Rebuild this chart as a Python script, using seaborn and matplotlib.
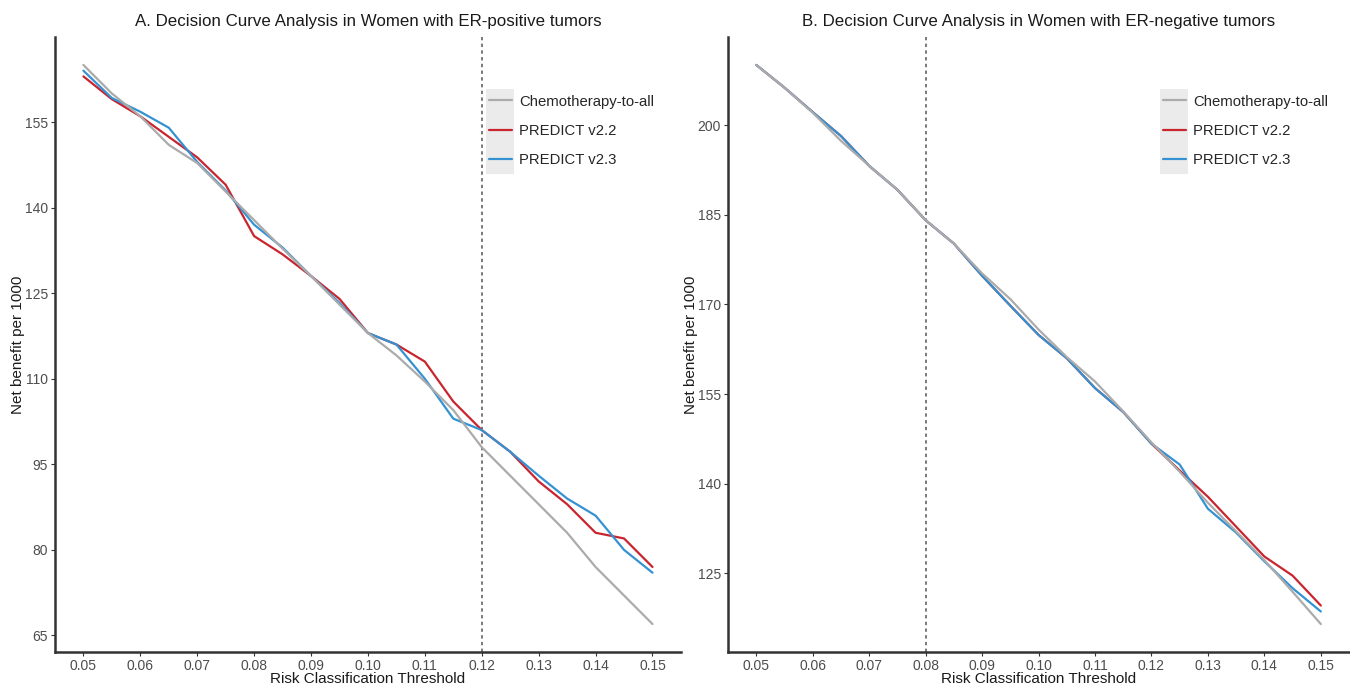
import numpy as np
import pandas as pd
import seaborn as sns
import matplotlib.pyplot as plt
from matplotlib.lines import Line2D
from matplotlib.patches import Rectangle

# thresholds shared by both panels
thresholds = [0.05, 0.055, 0.06, 0.065, 0.07, 0.075, 0.08, 0.085, 0.09, 0.095, 0.10,
              0.105, 0.11, 0.115, 0.12, 0.125, 0.13, 0.135, 0.14, 0.145, 0.15]

# ---------- A: ER-positive ----------
chemo_pos = [165, 160, 156, 151, 147.8, 142.8, 137.8, 132.8, 128, 123, 118,
             114.1, 109.5, 104.5, 98, 93, 88, 83, 77, 72, 67]
v22_pos = [163, 159, 156, 152.4, 148.8, 144, 135, 131.8, 128, 124, 118,
           116, 113, 106, 101, 97.2, 92, 88, 83, 82, 77]
v23_pos = [164, 159.2, 156.8, 154, 148, 143, 137, 133, 128, 123.3, 118,
           116, 110, 103, 101, 97.2, 93, 89, 86, 80, 76]

# ---------- B: ER-negative ----------
chemo_neg = [210.1, 206.3, 202.1, 197.4, 193.2, 189.2, 184.1, 180.2, 175.2, 170.9, 165.8,
             161.2, 157.1, 152.1, 146.9, 142, 136.8, 132, 127.2, 121.9, 116.5]
v22_neg = [210.1, 206.3, 202.2, 198.2, 193.2, 189.2, 184.1, 180.2, 174.8, 169.8, 164.9,
           161, 156, 152, 146.7, 142.2, 137.8, 132.8, 127.8, 124.6, 119.6]
v23_neg = [210.1, 206.3, 202.2, 198.2, 193.2, 189.2, 184.1, 180.2, 174.8, 169.8, 164.9,
           161, 156, 152, 146.7, 143.2, 135.8, 131.8, 127, 122.5, 118.6]

yticks_pos = [65, 80, 95, 110, 125, 140, 155]
yticks_neg = [125, 140, 155, 170, 185, 200]
xticks = [0.05, 0.06, 0.07, 0.08, 0.09, 0.10, 0.11, 0.12, 0.13, 0.14, 0.15]
cutoff_pos, cutoff_neg = 0.12, 0.08

labels = ['Chemotherapy-to-all', 'PREDICT v2.2', 'PREDICT v2.3']
colors = {'Chemotherapy-to-all': '#ABABAB', 'PREDICT v2.2': '#C9252F', 'PREDICT v2.3': '#3592D2'}
draw_order = ['PREDICT v2.2', 'PREDICT v2.3', 'Chemotherapy-to-all']


def long_df(chemo, v22, v23):
    return pd.DataFrame({
        'threshold': thresholds * 3,
        'nb': chemo + v22 + v23,
        'model': [labels[0]] * len(thresholds) + [labels[1]] * len(thresholds) + [labels[2]] * len(thresholds),
    })


sns.set_theme(style='white')
plt.rcParams['font.family'] = ['Liberation Sans', 'DejaVu Sans']

fig = plt.figure(figsize=(13.5, 6.84), dpi=100)
ax1 = fig.add_axes([0.0407, 0.0468, 0.4637, 0.8991])
ax2 = fig.add_axes([0.5393, 0.0468, 0.4600, 0.8991])

# (axes, data, cutoff, yticks, title, legend x anchor, key box x)
panels = [
    (ax1, long_df(chemo_pos, v22_pos, v23_pos), cutoff_pos, yticks_pos,
     'A. Decision Curve Analysis in Women with ER-positive tumors', 0.684, 0.6885),
    (ax2, long_df(chemo_neg, v22_neg, v23_neg), cutoff_neg, yticks_neg,
     'B. Decision Curve Analysis in Women with ER-negative tumors', 0.691, 0.696),
]

for ax, df, cut, yt, title, lx, bx in panels:
    ax.axvline(cut, color='#555555', lw=1.1, ls=(0, (2.2, 2.2)), zorder=1)
    for m in draw_order:
        sns.lineplot(data=df[df['model'] == m], x='threshold', y='nb', color=colors[m],
                     lw=1.6, ax=ax, legend=False, zorder=3)

    lo, hi = min(df['nb']), max(df['nb'])
    pad = (hi - lo) * 0.05
    ax.set_ylim(lo - pad, hi + pad)
    ax.set_xlim(0.045, 0.155)
    ax.set_xticks(xticks)
    ax.set_xticklabels([f'{t:.2f}' for t in xticks])
    ax.set_yticks(yt)

    ax.set_title(title, fontsize=12.2, color='#1a1a1a', pad=8)
    ax.set_xlabel('Risk Classification Threshold', fontsize=11, color='#1a1a1a', labelpad=-1)
    ax.set_ylabel('Net benefit per 1000', fontsize=11, color='#1a1a1a', labelpad=0)

    for side in ['top', 'right']:
        ax.spines[side].set_visible(False)
    for side in ['left', 'bottom']:
        ax.spines[side].set_color('#333333')
        ax.spines[side].set_linewidth(1.8)
    ax.tick_params(axis='both', which='both', length=3, width=0.8, color='#333333',
                   labelsize=10, labelcolor='#4d4d4d', pad=2, left=True, bottom=True)
    ax.grid(False)

    # ggplot-style legend with grey key column
    handles = [Line2D([], [], color=colors[m], lw=1.6) for m in labels]
    ax.legend(handles, labels, loc='upper left', bbox_to_anchor=(lx, 0.916),
              frameon=False, fontsize=10.7, handlelength=1.55, handletextpad=0.45,
              labelspacing=1.02, borderaxespad=0)
    ax.add_patch(Rectangle((bx, 0.778), 0.045, 0.138, transform=ax.transAxes,
                           facecolor='#EBEBEB', edgecolor='none', zorder=0))

fig.savefig('out.png', dpi=100)
